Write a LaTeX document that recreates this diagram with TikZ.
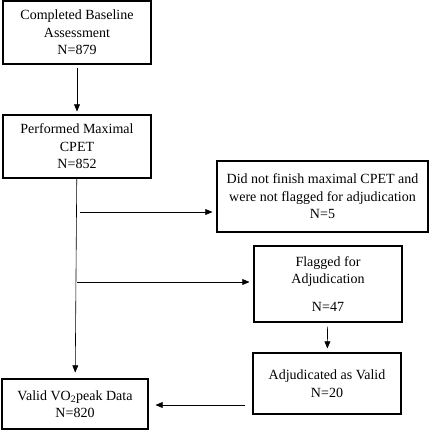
\documentclass[tikz,border=0pt]{standalone}
\usepackage{fontspec}
\setmainfont{Liberation Serif}
\usepackage{tikz}
\usetikzlibrary{shapes, arrows, positioning, calc}

\tikzset{
    flowbox/.style={draw, line width=1.1pt, align=center, inner sep=0pt, font=\fontsize{14}{17.5}\selectfont},
    flowarrow/.style={->, >=triangle 45, line width=0.6pt}
}

\begin{document}
\begin{tikzpicture}[x=1pt, y=-1pt]
                    \useasboundingbox (0,0) rectangle (438,440);

                    \node[flowbox, minimum width=148pt, minimum height=63pt] (Baseline) at (77,32.5) {Completed Baseline\\Assessment\\N=879};
                    \node[flowbox, minimum width=148pt, minimum height=63pt] (Cpet) at (77,146.5) {Performed Maximal\\CPET\\N=852};
                    \node[flowbox, minimum width=211pt, minimum height=71pt] (NonFinish) at (322.5,196.5) {Did not finish maximal CPET and\\were not flagged for adjudication\\N=5};
                    \node[flowbox, minimum width=148pt, minimum height=76pt] (Flagged) at (328,284) {Flagged for\\Adjudication\\[10pt]N=47};
                    \node[flowbox, minimum width=148pt, minimum height=61pt] (Adjud) at (327,383.5) {Adjudicated as Valid\\N=20};
                    \node[flowbox, minimum width=146pt, minimum height=50pt] (Valid) at (75,404) {Valid VO\textsubscript{2}peak Data\\N=820};

                    \coordinate (Split1) at (80,212);
                    \coordinate (Split2) at (77,282);

                    \draw[flowarrow, shorten <=3pt, shorten >=3pt] (Baseline) to (Cpet);
                    \draw[flowarrow, shorten >=6pt] (Cpet) to (Valid);
                    \draw[flowarrow, shorten >=4pt] (Split1) to (Split1 -| NonFinish.west);
                    \draw[flowarrow, shorten >=4pt] (Split2) to (Split2 -| Flagged.west);
                    \draw[flowarrow, shorten <=4pt, shorten >=4pt] (Flagged) to (Adjud);
                    \draw[flowarrow, shorten <=7pt, shorten >=7pt] (Adjud.west |- 0,405) to (Valid.east |- 0,405);
                \end{tikzpicture}
\end{document}
